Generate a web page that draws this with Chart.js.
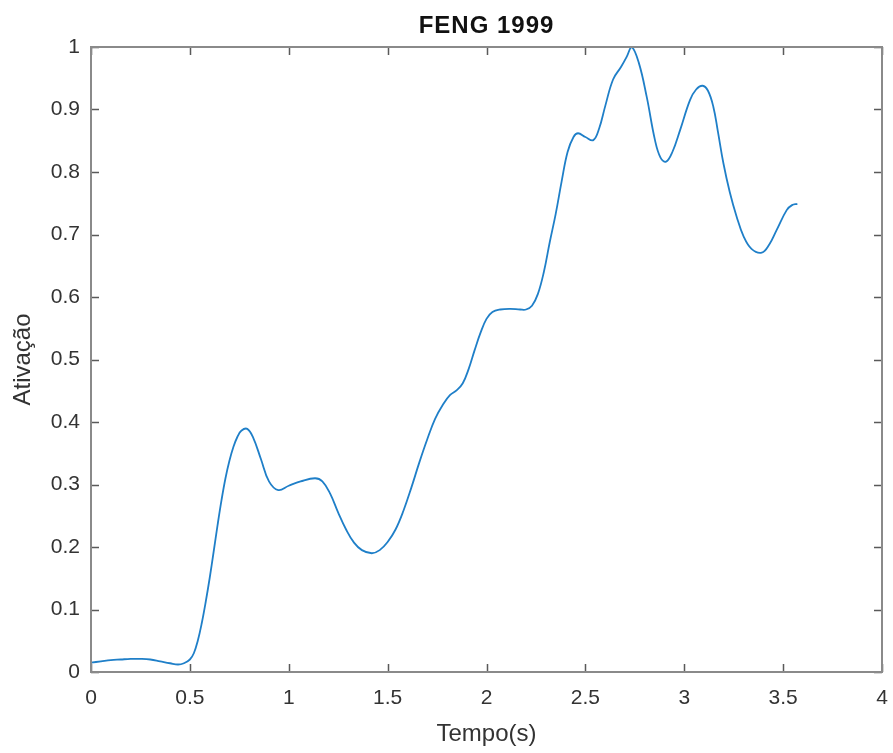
<!DOCTYPE html>
<html>
<head>
<meta charset="utf-8">
<title>FENG 1999</title>
<script src="https://cdn.jsdelivr.net/npm/chart.js@4/dist/chart.umd.min.js"></script>
<style>
  html, body { margin: 0; padding: 0; background: #ffffff; }
  #wrap { width: 893px; height: 753px; }
</style>
</head>
<body>
<div id="wrap"><canvas id="plot" width="893" height="753"></canvas></div>
<script>
// Muscle activation over time (Feng 1999 model)
const tempo = [
  0.00, 0.05, 0.10, 0.15, 0.20, 0.25, 0.30, 0.35, 0.40, 0.44, 0.47,
  0.50, 0.52, 0.54, 0.56, 0.58, 0.60, 0.62, 0.64, 0.66, 0.68, 0.70,
  0.72, 0.74, 0.76, 0.79, 0.82, 0.86, 0.90, 0.947, 1.00, 1.06, 1.133,
  1.17, 1.21, 1.25, 1.29, 1.33, 1.37, 1.42, 1.46, 1.50, 1.54, 1.58,
  1.62, 1.66, 1.70, 1.74, 1.78, 1.815, 1.85, 1.88, 1.91, 1.94, 1.97,
  2.00, 2.03, 2.07, 2.12, 2.17, 2.20, 2.23, 2.26, 2.29, 2.32, 2.35,
  2.38, 2.41, 2.44, 2.463, 2.50, 2.54, 2.57, 2.60, 2.64, 2.68, 2.71,
  2.734, 2.77, 2.81, 2.852, 2.88, 2.908, 2.94, 2.979, 3.029, 3.06,
  3.093, 3.12, 3.147, 3.17, 3.198, 3.23, 3.265, 3.30, 3.34, 3.392,
  3.43, 3.467, 3.518, 3.545, 3.572
];
const ativacao = [
  0.015, 0.017, 0.019, 0.020, 0.021, 0.021, 0.020, 0.017, 0.014, 0.012, 0.014,
  0.020, 0.030, 0.050, 0.078, 0.112, 0.150, 0.192, 0.235, 0.275, 0.310, 0.338,
  0.360, 0.376, 0.386, 0.389, 0.375, 0.340, 0.305, 0.291, 0.298, 0.305, 0.310,
  0.305, 0.285, 0.255, 0.228, 0.207, 0.195, 0.190, 0.195, 0.208, 0.228, 0.258,
  0.295, 0.335, 0.372, 0.405, 0.428, 0.443, 0.451, 0.462, 0.485, 0.515, 0.543,
  0.565, 0.576, 0.580, 0.581, 0.580, 0.580, 0.586, 0.605, 0.640, 0.688, 0.733,
  0.785, 0.832, 0.856, 0.862, 0.856, 0.851, 0.870, 0.905, 0.948, 0.968, 0.985,
  1.000, 0.975, 0.9205, 0.851, 0.823, 0.8165, 0.832, 0.867, 0.915, 0.932,
  0.938, 0.930, 0.9045, 0.865, 0.814, 0.768, 0.7285, 0.697, 0.677, 0.671,
  0.684, 0.707, 0.739, 0.747, 0.749
];
const xTicks = [0, 0.5, 1, 1.5, 2, 2.5, 3, 3.5, 4];
const yTicks = [0, 0.1, 0.2, 0.3, 0.4, 0.5, 0.6, 0.7, 0.8, 0.9, 1];
const titulo = 'FENG 1999';

const FONT = "'Liberation Sans', Arial, Helvetica, sans-serif";
const TEXT = '#333333';
const fmt = v => String(+Number(v).toFixed(2));

// Box around the axes with inward tick marks on all four sides,
// plus the bold title centred over the plotting area
const axesBox = {
  id: 'axesBox',
  afterDatasetsDraw(chart) {
    const { ctx, chartArea: a, scales: { x, y } } = chart;
    const len = 8;
    ctx.save();
    ctx.strokeStyle = '#5a5a5a';
    ctx.lineWidth = 1.5;
    ctx.beginPath();
    x.ticks.forEach(t => {
      const px = Math.round(x.getPixelForValue(t.value)) + 0.5;
      ctx.moveTo(px, a.bottom); ctx.lineTo(px, a.bottom - len);
      ctx.moveTo(px, a.top); ctx.lineTo(px, a.top + len);
    });
    y.ticks.forEach(t => {
      const py = Math.round(y.getPixelForValue(t.value)) + 0.5;
      ctx.moveTo(a.left, py); ctx.lineTo(a.left + len, py);
      ctx.moveTo(a.right, py); ctx.lineTo(a.right - len, py);
    });
    ctx.stroke();
    ctx.strokeStyle = '#8a8a8a';
    ctx.lineWidth = 2;
    ctx.strokeRect(a.left, a.top, a.right - a.left, a.bottom - a.top);

    ctx.fillStyle = '#111111';
    ctx.font = 'bold 24px ' + FONT;
    if ('letterSpacing' in ctx) ctx.letterSpacing = '1px';
    ctx.textAlign = 'center';
    ctx.textBaseline = 'alphabetic';
    ctx.fillText(titulo, (a.left + a.right) / 2, 33);
    ctx.restore();
  }
};

new Chart(document.getElementById('plot'), {
  type: 'line',
  data: {
    datasets: [{
      data: tempo.map((t, i) => ({ x: t, y: ativacao[i] })),
      borderColor: '#1f7fc8',
      borderWidth: 1.8,
      pointRadius: 0,
      fill: false,
      tension: 0.4
    }]
  },
  options: {
    responsive: false,
    animation: false,
    devicePixelRatio: 1,
    layout: { padding: { left: 0, right: 11, top: 47, bottom: 0 } },
    plugins: {
      legend: { display: false },
      tooltip: { enabled: false },
      title: { display: false }
    },
    scales: {
      x: {
        type: 'linear',
        min: 0, max: 4,
        afterBuildTicks: s => { s.ticks = xTicks.map(v => ({ value: v })); },
        afterFit: s => { s.height = 81; s.paddingLeft = 0; s.paddingRight = 0; },
        grid: { display: false, drawTicks: false },
        border: { display: false },
        ticks: { color: TEXT, padding: 14, maxRotation: 0, callback: fmt, font: { family: FONT, size: 21 } },
        title: {
          display: true, text: 'Tempo(s)', color: TEXT,
          font: { family: FONT, size: 24 },
          padding: { top: 0, bottom: 4 }
        }
      },
      y: {
        type: 'linear',
        min: 0, max: 1,
        afterBuildTicks: s => { s.ticks = yTicks.map(v => ({ value: v })); },
        afterFit: s => { s.width = 91; s.paddingTop = 0; s.paddingBottom = 0; },
        grid: { display: false, drawTicks: false },
        border: { display: false },
        ticks: { color: TEXT, padding: 11, callback: fmt, font: { family: FONT, size: 21 } },
        title: {
          display: true, text: 'Ativação', color: TEXT,
          font: { family: FONT, size: 24 },
          padding: { top: 9, bottom: 0 }
        }
      }
    }
  },
  plugins: [axesBox]
});
</script>
</body>
</html>
